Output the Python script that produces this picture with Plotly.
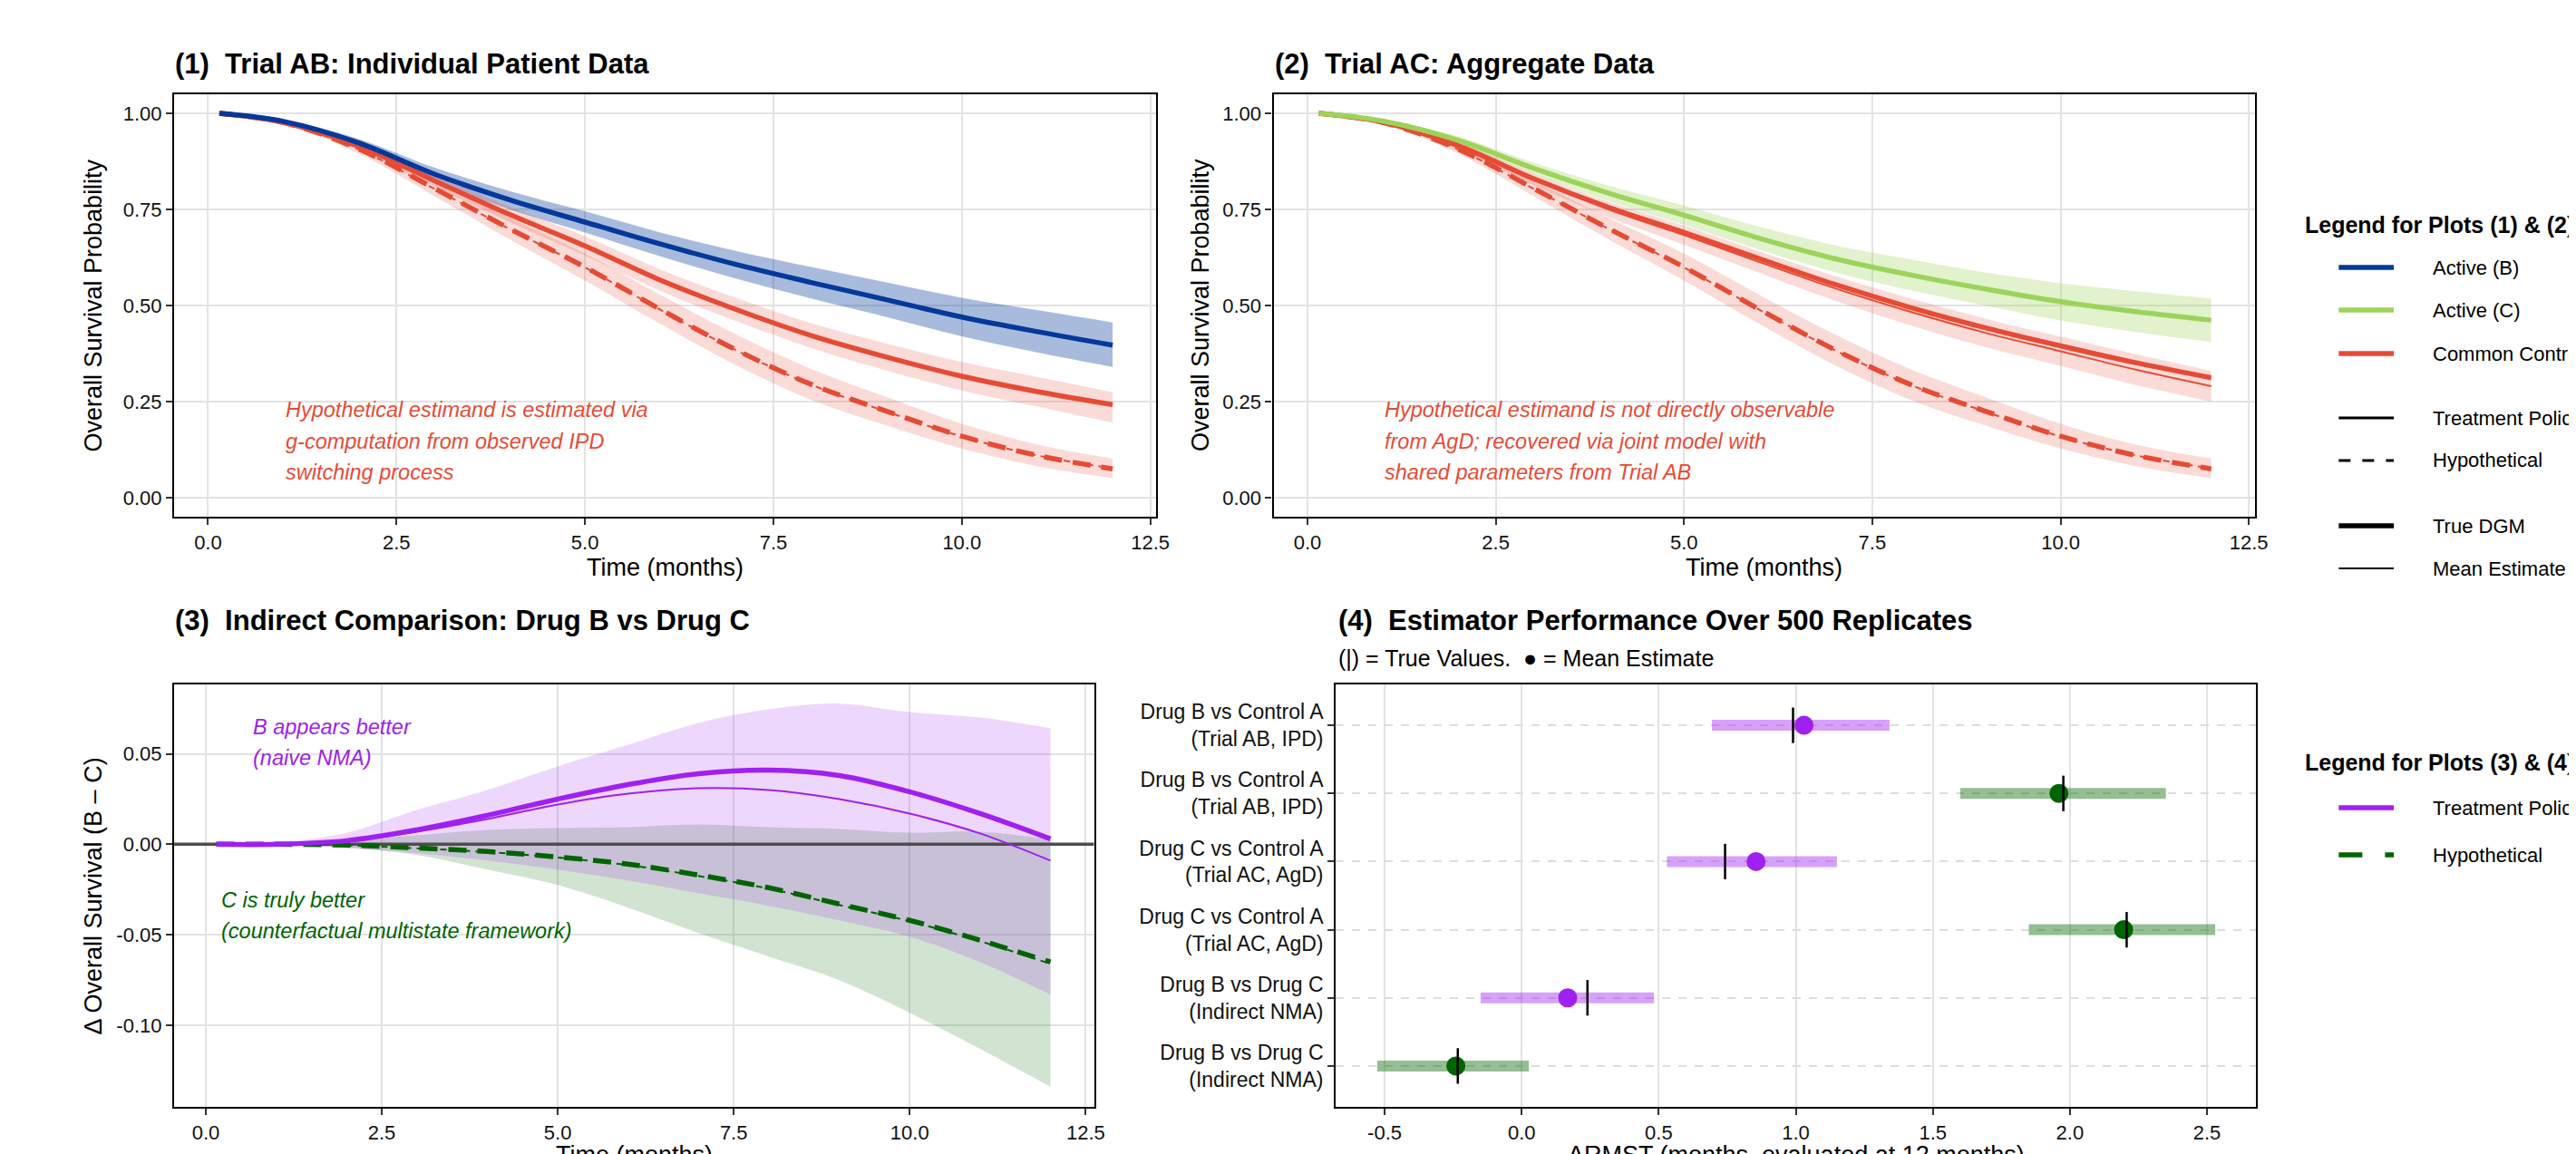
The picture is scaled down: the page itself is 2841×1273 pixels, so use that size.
import plotly.graph_objects as go

W, H = 2841, 1273
FONT = "Liberation Sans, Arial, Helvetica, sans-serif"

# ---------------- data ----------------
t = [0.15, 1, 2, 3, 4, 5, 6, 7, 8, 9, 10, 11, 12]

# Panel 1: Trial AB (IPD)
ab_B_true = [1.0, 0.979, 0.923, 0.842, 0.775, 0.717, 0.660, 0.607, 0.560, 0.515, 0.470, 0.432, 0.397]
ab_B_est  = [1.0, 0.979, 0.922, 0.841, 0.774, 0.716, 0.659, 0.606, 0.559, 0.514, 0.469, 0.432, 0.398]
ab_B_lo   = [1.0, 0.976, 0.912, 0.824, 0.750, 0.690, 0.628, 0.570, 0.518, 0.470, 0.420, 0.378, 0.340]
ab_B_hi   = [1.0, 0.982, 0.933, 0.859, 0.798, 0.745, 0.690, 0.642, 0.600, 0.560, 0.520, 0.488, 0.456]

ab_A_tp_true = [1.0, 0.976, 0.914, 0.825, 0.737, 0.655, 0.566, 0.490, 0.422, 0.366, 0.316, 0.276, 0.242]
ab_A_tp_est  = [1.0, 0.976, 0.913, 0.824, 0.736, 0.654, 0.565, 0.489, 0.421, 0.365, 0.315, 0.275, 0.241]
ab_A_tp_lo   = [1.0, 0.973, 0.904, 0.810, 0.717, 0.630, 0.538, 0.460, 0.390, 0.331, 0.279, 0.237, 0.195]
ab_A_tp_hi   = [1.0, 0.979, 0.924, 0.840, 0.757, 0.680, 0.594, 0.520, 0.454, 0.401, 0.353, 0.314, 0.274]

ab_A_hyp_true = [1.0, 0.976, 0.907, 0.805, 0.700, 0.600, 0.490, 0.385, 0.295, 0.225, 0.160, 0.110, 0.075]
ab_A_hyp_est  = [1.0, 0.976, 0.906, 0.804, 0.699, 0.599, 0.489, 0.384, 0.294, 0.224, 0.159, 0.110, 0.076]
ab_A_hyp_lo   = [1.0, 0.973, 0.895, 0.785, 0.672, 0.565, 0.452, 0.345, 0.255, 0.188, 0.128, 0.082, 0.051]
ab_A_hyp_hi   = [1.0, 0.979, 0.919, 0.825, 0.728, 0.635, 0.528, 0.425, 0.335, 0.262, 0.192, 0.138, 0.102]

# Panel 2: Trial AC (AgD)
ac_C_true = [1.0, 0.980, 0.930, 0.857, 0.792, 0.735, 0.675, 0.622, 0.580, 0.543, 0.510, 0.484, 0.462]
ac_C_est  = [1.0, 0.980, 0.929, 0.856, 0.791, 0.734, 0.674, 0.621, 0.579, 0.542, 0.509, 0.484, 0.462]
ac_C_lo   = [1.0, 0.977, 0.920, 0.842, 0.772, 0.710, 0.645, 0.587, 0.540, 0.500, 0.461, 0.431, 0.405]
ac_C_hi   = [1.0, 0.983, 0.940, 0.872, 0.812, 0.760, 0.705, 0.657, 0.620, 0.586, 0.558, 0.537, 0.518]

ac_A_tp_true = [1.0, 0.977, 0.916, 0.830, 0.755, 0.690, 0.622, 0.555, 0.495, 0.442, 0.395, 0.351, 0.312]
ac_A_tp_est  = [1.0, 0.977, 0.915, 0.828, 0.750, 0.683, 0.613, 0.545, 0.484, 0.429, 0.381, 0.333, 0.290]
ac_A_tp_lo   = [1.0, 0.974, 0.905, 0.813, 0.730, 0.658, 0.585, 0.513, 0.449, 0.392, 0.343, 0.293, 0.250]
ac_A_tp_hi   = [1.0, 0.980, 0.925, 0.843, 0.770, 0.708, 0.641, 0.577, 0.519, 0.466, 0.419, 0.373, 0.330]

ac_A_hyp_true = [1.0, 0.976, 0.907, 0.805, 0.700, 0.600, 0.490, 0.385, 0.295, 0.225, 0.160, 0.110, 0.075]
ac_A_hyp_est  = [1.0, 0.976, 0.906, 0.804, 0.699, 0.599, 0.489, 0.384, 0.294, 0.224, 0.159, 0.110, 0.076]
ac_A_hyp_lo   = [1.0, 0.973, 0.895, 0.785, 0.672, 0.565, 0.452, 0.345, 0.255, 0.188, 0.128, 0.082, 0.051]
ac_A_hyp_hi   = [1.0, 0.979, 0.919, 0.825, 0.728, 0.635, 0.528, 0.425, 0.335, 0.262, 0.192, 0.138, 0.102]

# Panel 3: Delta OS (B - C)
d_tp_true = [0.0, 0.0, 0.002, 0.008, 0.016, 0.025, 0.033, 0.039, 0.041, 0.038, 0.029, 0.017, 0.003]
d_tp_est  = [0.0, 0.0, 0.002, 0.007, 0.014, 0.022, 0.028, 0.031, 0.030, 0.025, 0.017, 0.006, -0.009]
d_tp_lo   = [0.0, -0.0005, -0.002, -0.005, -0.009, -0.014, -0.020, -0.027, -0.034, -0.042, -0.051, -0.065, -0.083]
d_tp_hi   = [0.0, 0.0005, 0.0064, 0.019, 0.030, 0.043, 0.055, 0.067, 0.0746, 0.0777, 0.073, 0.070, 0.064]

d_hyp_true = [0.0, 0.0, -0.0005, -0.002, -0.004, -0.007, -0.011, -0.017, -0.024, -0.033, -0.042, -0.053, -0.065]
d_hyp_est  = [0.0, 0.0, -0.0006, -0.0022, -0.0043, -0.0073, -0.0115, -0.0175, -0.0245, -0.0335, -0.0425, -0.0535, -0.066]
d_hyp_lo   = [0.0, -0.0005, -0.002, -0.006, -0.014, -0.0225, -0.035, -0.049, -0.062, -0.075, -0.093, -0.113, -0.134]
d_hyp_hi   = [0.0, 0.0005, 0.002, 0.005, 0.008, 0.009, 0.0095, 0.011, 0.0095, 0.0085, 0.0064, 0.007, 0.0027]

# Panel 4: estimator performance (Delta RMST at 12 months)
perf_labels = ["Drug B vs Control A<br>(Trial AB, IPD)", "Drug B vs Control A<br>(Trial AB, IPD)",
               "Drug C vs Control A<br>(Trial AC, AgD)", "Drug C vs Control A<br>(Trial AC, AgD)",
               "Drug B vs Drug C<br>(Indirect NMA)", "Drug B vs Drug C<br>(Indirect NMA)"]
perf_pos = [6, 5, 4, 3, 2, 1]
perf_estimand = ["tp", "hyp", "tp", "hyp", "tp", "hyp"]
perf_lo   = [0.694, 1.600, 0.530, 1.850, -0.150, -0.527]
perf_hi   = [1.342, 2.350, 1.150, 2.530, 0.483, 0.026]
perf_mean = [1.030, 1.960, 0.855, 2.196, 0.168, -0.240]
perf_true = [0.990, 1.976, 0.742, 2.207, 0.240, -0.233]

x_ticks_time = [0.0, 2.5, 5.0, 7.5, 10.0, 12.5]
y_ticks_surv = [0.0, 0.25, 0.5, 0.75, 1.0]
y_ticks_delta = [0.05, 0.0, -0.05, -0.10]
y_ticktext_delta = ["0.05", "0.00", "-0.05", "-0.10"]
x_ticks_rmst = [-0.5, 0.0, 0.5, 1.0, 1.5, 2.0, 2.5]
x_ticktext_rmst = ["-0.5", "0.0", "0.5", "1.0", "1.5", "2.0", "2.5"]

# ---------------- styles ----------------
BLUE = "#04399B"
LGREEN = "#9DD35A"
RED = "#E64B35"
PURPLE = "#A020F0"
DGREEN = "#006400"

def rgba(hx, a):
    hx = hx.lstrip("#")
    r, g, b = int(hx[0:2], 16), int(hx[2:4], 16), int(hx[4:6], 16)
    return f"rgba({r},{g},{b},{a})"

TH = 5.5    # true DGM width
TN = 2.0    # mean estimate width
DASH_T = "20px,12px"
DASH_N = "7px,6px"

X1_RANGE = [-0.45, 12.58]
Y1_RANGE = [-0.0495, 1.0495]
X3_RANGE = [-0.45, 12.62]
Y3_RANGE = [-0.145, 0.0883]
X4_RANGE = [-0.678, 2.678]
Y4_RANGE = [0.4, 6.6]

fig = go.Figure()

def band(xa, ya, lo, hi, color):
    fig.add_trace(go.Scatter(x=t, y=lo, mode="lines", line=dict(width=0, shape="spline", color=color),
                             xaxis=xa, yaxis=ya, showlegend=False, hoverinfo="skip"))
    fig.add_trace(go.Scatter(x=t, y=hi, mode="lines", line=dict(width=0, shape="spline", color=color),
                             fill="tonexty", fillcolor=color, xaxis=xa, yaxis=ya,
                             showlegend=False, hoverinfo="skip"))

def line(xa, ya, y, color, width, dash="solid"):
    fig.add_trace(go.Scatter(x=t, y=y, mode="lines",
                             line=dict(color=color, width=width, dash=dash, shape="spline"),
                             xaxis=xa, yaxis=ya, showlegend=False))

# Panel 1
band("x", "y", ab_B_lo, ab_B_hi, rgba(BLUE, 0.34))
band("x", "y", ab_A_tp_lo, ab_A_tp_hi, rgba(RED, 0.2))
band("x", "y", ab_A_hyp_lo, ab_A_hyp_hi, rgba(RED, 0.2))
line("x", "y", ab_A_hyp_true, RED, TH, DASH_T)
line("x", "y", ab_A_hyp_est, RED, TN, DASH_N)
line("x", "y", ab_A_tp_true, RED, TH)
line("x", "y", ab_A_tp_est, RED, TN)
line("x", "y", ab_B_true, BLUE, TH)
line("x", "y", ab_B_est, BLUE, TN)

# Panel 2
band("x2", "y2", ac_C_lo, ac_C_hi, rgba(LGREEN, 0.3))
band("x2", "y2", ac_A_tp_lo, ac_A_tp_hi, rgba(RED, 0.2))
band("x2", "y2", ac_A_hyp_lo, ac_A_hyp_hi, rgba(RED, 0.2))
line("x2", "y2", ac_A_hyp_true, RED, TH, DASH_T)
line("x2", "y2", ac_A_hyp_est, RED, TN, DASH_N)
line("x2", "y2", ac_A_tp_true, RED, TH)
line("x2", "y2", ac_A_tp_est, RED, TN)
line("x2", "y2", ac_C_true, LGREEN, TH)
line("x2", "y2", ac_C_est, LGREEN, TN)

# Panel 3
band("x3", "y3", d_hyp_lo, d_hyp_hi, rgba(DGREEN, 0.18))
band("x3", "y3", d_tp_lo, d_tp_hi, rgba(PURPLE, 0.18))
fig.add_trace(go.Scatter(x=X3_RANGE, y=[0, 0], mode="lines", line=dict(color="#4D4D4D", width=3.5),
                         xaxis="x3", yaxis="y3", showlegend=False, hoverinfo="skip"))
line("x3", "y3", d_hyp_true, DGREEN, TH, DASH_T)
line("x3", "y3", d_hyp_est, DGREEN, TN, DASH_N)
line("x3", "y3", d_tp_true, PURPLE, TH)
line("x3", "y3", d_tp_est, PURPLE, TN)

# Panel 4
for i in range(len(perf_pos)):
    col = PURPLE if perf_estimand[i] == "tp" else DGREEN
    fig.add_trace(go.Scatter(x=[perf_lo[i], perf_hi[i]], y=[perf_pos[i], perf_pos[i]], mode="lines",
                             line=dict(color=rgba(col, 0.42), width=12),
                             xaxis="x4", yaxis="y4", showlegend=False))
for i in range(len(perf_pos)):
    col = PURPLE if perf_estimand[i] == "tp" else DGREEN
    fig.add_trace(go.Scatter(x=[perf_mean[i]], y=[perf_pos[i]], mode="markers",
                             marker=dict(color=col, size=21, line=dict(width=0)),
                             xaxis="x4", yaxis="y4", showlegend=False))
fig.add_trace(go.Scatter(x=perf_true, y=perf_pos, mode="markers",
                         marker=dict(symbol="line-ns", size=28, line=dict(color="black", width=2.5)),
                         xaxis="x4", yaxis="y4", showlegend=False))

# ---------------- axes ----------------
def px(x): return x / W
def py(y): return 1 - y / H

GRID = "#E3E3E3"
common = dict(showline=True, mirror=True, linecolor="black", linewidth=2.2,
              ticks="outside", ticklen=7, tickwidth=2, tickcolor="#333333",
              tickfont=dict(family=FONT, size=22, color="#111111"),
              showgrid=True, gridcolor=GRID, gridwidth=1.8, zeroline=False)

D1x = [px(185), px(1274)]
D2x = [px(1404), px(2492)]
D3x = [px(185), px(1205)]
D4x = [px(1473), px(2493)]
Dtop = [py(562), py(96)]
Dbot = [py(1213), py(747)]

fig.update_layout(
    xaxis=dict(domain=D1x, anchor="y", range=X1_RANGE, tickvals=x_ticks_time, tickformat=".1f", **common),
    yaxis=dict(domain=Dtop, anchor="x", range=Y1_RANGE, tickvals=y_ticks_surv, tickformat=".2f", **common),
    xaxis2=dict(domain=D2x, anchor="y2", range=X1_RANGE, tickvals=x_ticks_time, tickformat=".1f", **common),
    yaxis2=dict(domain=Dtop, anchor="x2", range=Y1_RANGE, tickvals=y_ticks_surv, tickformat=".2f", **common),
    xaxis3=dict(domain=D3x, anchor="y3", range=X3_RANGE, tickvals=x_ticks_time, tickformat=".1f", **common),
    yaxis3=dict(domain=Dbot, anchor="x3", range=Y3_RANGE, tickvals=y_ticks_delta,
                ticktext=y_ticktext_delta, **common),
    xaxis4=dict(domain=D4x, anchor="y4", range=X4_RANGE, tickvals=x_ticks_rmst,
                ticktext=x_ticktext_rmst, **common),
    yaxis4=dict(domain=Dbot, anchor="x4", range=Y4_RANGE, tickvals=perf_pos, ticktext=perf_labels,
                griddash="dash", **{k: v for k, v in common.items() if k != "tickfont"},
                tickfont=dict(family=FONT, size=23, color="#111111")),
)
fig.layout.yaxis4.gridcolor = "#DDDDDD"

# ---------------- text ----------------
anns = []
def ann(text, x, y, size, color="black", xanchor="left", yanchor="middle", angle=0,
        xref="paper", yref="paper"):
    anns.append(dict(text=text, x=x, y=y, xref=xref, yref=yref, xanchor=xanchor, yanchor=yanchor,
                     showarrow=False, textangle=angle, align="left",
                     font=dict(family=FONT, size=size, color=color)))

# panel titles
ann("<b>(1)\u00a0 Trial AB: Individual Patient Data</b>", px(184), py(63), 31)
ann("<b>(2)\u00a0 Trial AC: Aggregate Data</b>", px(1403), py(63), 31)
ann("<b>(3)\u00a0 Indirect Comparison: Drug B vs Drug C</b>", px(184), py(676), 31)
ann("<b>(4)\u00a0 Estimator Performance Over 500 Replicates</b>", px(1474), py(676), 31)
ann("(|) = True Values.\u00a0 \u25CF = Mean Estimate", px(1474), py(718), 25)

# axis titles
ann("Time (months)", px(729), py(618), 27, xanchor="center")
ann("Time (months)", px(1948), py(618), 27, xanchor="center")
ann("Time (months)", px(695), py(1266), 27, xanchor="center")
ann("\u0394RMST (months, evaluated at 12 months)", px(1983), py(1266), 27, xanchor="center")
ann("Overall Survival Probability", px(96), py(329), 27, xanchor="center", angle=-90)
ann("Overall Survival Probability", px(1323), py(329), 27, xanchor="center", angle=-90)
ann("\u0394 Overall Survival (B \u2013 C)", px(96), py(980), 27, xanchor="center", angle=-90)

# in-panel notes
for txt, yv in zip(["Hypothetical estimand is estimated via", "g-computation from observed IPD",
                    "switching process"], [0.228, 0.147, 0.067]):
    ann(f"<i>{txt}</i>", 1.0, yv, 23.5, color=RED, xref="x", yref="y")
for txt, yv in zip(["Hypothetical estimand is not directly observable", "from AgD; recovered via joint model with",
                    "shared parameters from Trial AB"], [0.228, 0.147, 0.067]):
    ann(f"<i>{txt}</i>", 1.0, yv, 23.5, color=RED, xref="x2", yref="y2")
for txt, yv in zip(["B appears better", "(naive NMA)"], [0.0647, 0.0477]):
    ann(f"<i>{txt}</i>", 0.64, yv, 23.5, color=PURPLE, xref="x3", yref="y3")
for txt, yv in zip(["C is truly better", "(counterfactual multistate framework)"], [-0.031, -0.048]):
    ann(f"<i>{txt}</i>", 0.19, yv, 23.5, color=DGREEN, xref="x3", yref="y3")

# legends (drawn manually)
shapes = []
def key(y, color, width, dash="solid"):
    shapes.append(dict(type="line", xref="paper", yref="paper", x0=px(2585), x1=px(2646), y0=py(y), y1=py(y),
                       line=dict(color=color, width=width, dash=dash)))

ann("<b>Legend for Plots (1) & (2)</b>", px(2545), py(240), 25)
leg1 = [("Active (B)", 287, BLUE, 5.5, "solid"),
        ("Active (C)", 334, LGREEN, 5.5, "solid"),
        ("Common Control (A)", 382, RED, 5.5, "solid"),
        ("Treatment Policy", 453, "black", 3, "solid"),
        ("Hypothetical", 500, "black", 3, "13px,13px"),
        ("True DGM", 572, "black", 5.5, "solid"),
        ("Mean Estimate", 619, "black", 2, "solid")]
for lab, y, c, w, d in leg1:
    key(y, c, w, d)
    ann(lab, px(2687), py(y), 22)

ann("<b>Legend for Plots (3) & (4)</b>", px(2545), py(833), 25)
leg2 = [("Treatment Policy", 883, PURPLE, 5.5, "solid"),
        ("Hypothetical", 935, DGREEN, 5.5, "26px,25px")]
for lab, y, c, w, d in leg2:
    key(y, c, w, d)
    ann(lab, px(2687), py(y), 22)

fig.update_layout(width=W, height=H, autosize=False, margin=dict(l=0, r=0, t=0, b=0),
                  paper_bgcolor="white", plot_bgcolor="white", showlegend=False,
                  annotations=anns, shapes=shapes, font=dict(family=FONT))

fig.write_html("out.html")
